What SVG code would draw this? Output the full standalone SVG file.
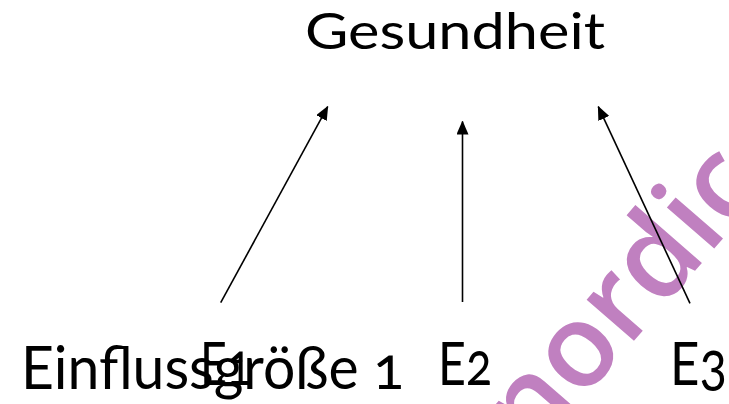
<svg xmlns="http://www.w3.org/2000/svg" width="729" height="404" viewBox="0 0 729 404">
  <style>
    .t { font-family: "Lato", "Noto Sans", sans-serif; fill: #000; font-variant-numeric: oldstyle-nums; font-feature-settings: "onum" 1; }
    .lbl { font-size: 60px; }
    .wm { font-family: "Open Sans", "Noto Sans", sans-serif; font-size: 116px; font-weight: 600; fill: #C080C0; }
    .arr { stroke: #000; stroke-width: 1.6; fill: none; marker-end: url(#ah); }
  </style>
  <defs>
    <marker id="ah" markerWidth="14" markerHeight="12" refX="13" refY="6" orient="auto" markerUnits="userSpaceOnUse" viewBox="0 0 14 12">
      <path d="M0,0 L14,6 L0,12 Z" fill="#000"/>
    </marker>
  </defs>
  <rect width="729" height="404" fill="#fff"/>
  <text class="wm" transform="translate(533,457) rotate(-49)">nordic</text>
  <g id="gesundheit">
    <text class="t" x="305" y="49" font-size="50" textLength="300" lengthAdjust="spacingAndGlyphs">Gesundheit</text>
  </g>
  <g id="einfluss">
    <text class="t lbl" x="21" y="389" textLength="383" lengthAdjust="spacingAndGlyphs">Einflussgröße 1</text>
  </g>
  <g id="e1">
    <text class="t lbl" x="200" y="385" textLength="52" lengthAdjust="spacingAndGlyphs">E1</text>
  </g>
  <g id="e2">
    <text class="t lbl" x="438" y="385" textLength="54" lengthAdjust="spacingAndGlyphs">E2</text>
  </g>
  <g id="e3">
    <text class="t lbl" x="670" y="385" textLength="57" lengthAdjust="spacingAndGlyphs">E3</text>
  </g>
  <g id="connectors">
    <line class="arr" x1="220.7" y1="302.7" x2="327.7" y2="106.7"/>
    <line class="arr" x1="462.5" y1="302" x2="462.5" y2="121.5"/>
    <line class="arr" x1="690" y1="303.3" x2="598.3" y2="106.7"/>
  </g>
</svg>
